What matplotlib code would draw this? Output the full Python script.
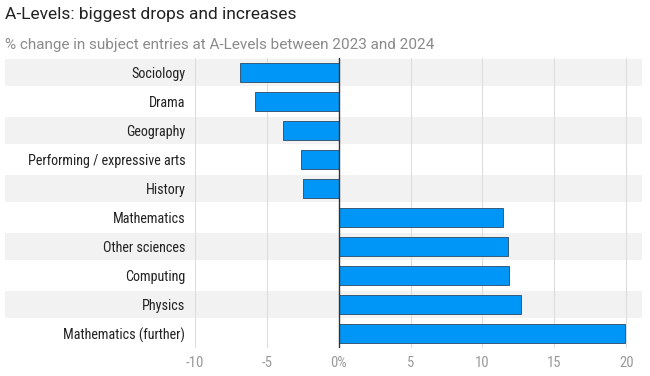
import matplotlib.pyplot as plt
from matplotlib import font_manager

# data
subjects = ["Sociology", "Drama", "Geography", "Performing / expressive arts", "History",
            "Mathematics", "Other sciences", "Computing", "Physics", "Mathematics (further)"]
change = [-6.9, -5.8, -3.9, -2.6, -2.5, 11.4, 11.8, 11.85, 12.65, 19.9]
ticks = [-10, -5, 0, 5, 10, 15, 20]
tick_labels = ["-10", "-5", "0%", "5", "10", "15", "20"]

names = {f.name for f in font_manager.fontManager.ttflist}
narrow = "DejaVu Sans"
for cand in ["Roboto Condensed", "Fira Sans Condensed", "Barlow Semi Condensed",
             "IBM Plex Sans Condensed", "Encode Sans Semi Condensed", "Archivo Narrow"]:
    if cand in names:
        narrow = cand
        break

fig = plt.figure(figsize=(6.5, 3.76), dpi=100)
ax = fig.add_axes([195 / 650, 28 / 376, 447 / 650, 290 / 376])

n = len(subjects)
y = list(range(n))

# alternating row bands, stretched left under the labels
for i in y:
    if i % 2 == 0:
        ax.axhspan(i - 0.48, i + 0.48, xmin=-0.425, xmax=1.0, color="#f2f2f2",
                   zorder=0, clip_on=False, lw=0)

for t in ticks:
    if t != 0:
        ax.axvline(t, color="#dddddd", lw=0.8, zorder=1)

ax.barh(y, change, height=0.68, color="#0096f7", edgecolor="#2a4a66", lw=0.6, zorder=3)
ax.axvline(0, color="#333333", lw=1.0, zorder=4)

ax.set_xlim(-10, 21.1)
ax.set_ylim(n - 0.5, -0.5)
ax.set_xticks(ticks)
ax.set_xticklabels(tick_labels, family=narrow, fontsize=10.5, color="#999999")
ax.set_yticks(y)
ax.set_yticklabels(subjects, family=narrow, fontsize=10.2, color="#222222")
ax.tick_params(length=0)
ax.tick_params(axis="y", pad=7)
ax.tick_params(axis="x", pad=6)
for s in ax.spines.values():
    s.set_visible(False)

fig.text(5 / 650, 1 - 15 / 376, "A-Levels: biggest drops and increases",
         family="Roboto", fontsize=12.5, color="#222222", va="center")
fig.text(5 / 650, 1 - 45 / 376, "% change in subject entries at A-Levels between 2023 and 2024",
         family="Roboto", fontsize=11, color="#8a8a8a", va="center")

fig.savefig("out.png", dpi=100)
